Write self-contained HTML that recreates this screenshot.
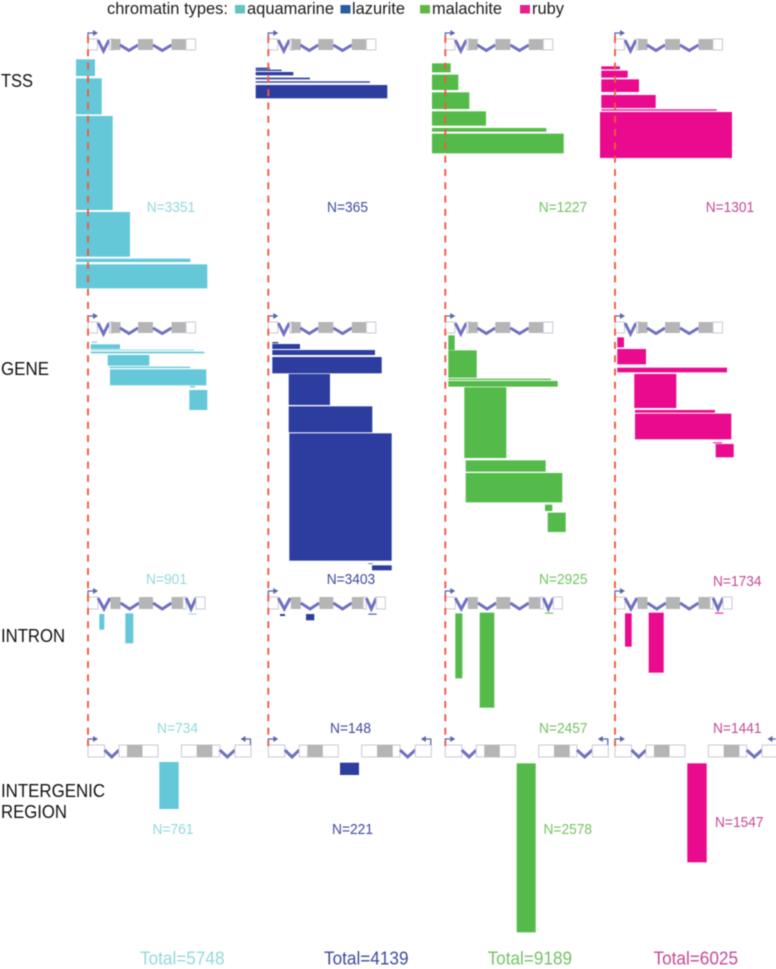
<!DOCTYPE html>
<html lang="en">
<head>
<meta charset="utf-8">
<title>Chromatin types across gene regions</title>
<style>
html,body{margin:0;padding:0;background:#fff;width:776px;height:969px;overflow:hidden}
svg{display:block;font-family:"Liberation Sans",Arial,sans-serif;filter:blur(0.45px)}
</style>
</head>
<body>
<svg id="chart" xmlns="http://www.w3.org/2000/svg" width="776" height="969" viewBox="0 0 776 969">
  <g>
    <text x="107" y="14" font-size="16.5" fill="#1c1c1c" textLength="121" lengthAdjust="spacingAndGlyphs">chromatin types:</text>
    <rect x="235" y="5" width="10" height="8.5" fill="#5fc4c2"/>
    <text x="247" y="14" font-size="16.5" fill="#1c1c1c" textLength="87" lengthAdjust="spacingAndGlyphs">aquamarine</text>
    <rect x="340.5" y="5" width="10" height="8.5" fill="#2a5ca4"/>
    <text x="352" y="14" font-size="16.5" fill="#1c1c1c" textLength="53" lengthAdjust="spacingAndGlyphs">lazurite</text>
    <rect x="420" y="5" width="10" height="8.5" fill="#5fb843"/>
    <text x="432" y="14" font-size="16.5" fill="#1c1c1c" textLength="70" lengthAdjust="spacingAndGlyphs">malachite</text>
    <rect x="520" y="5" width="10" height="8.5" fill="#e8208c"/>
    <text x="532" y="14" font-size="16.5" fill="#1c1c1c" textLength="32" lengthAdjust="spacingAndGlyphs">ruby</text>
  </g>
  <g font-size="18" fill="#111">
    <text x="1" y="87" textLength="32" lengthAdjust="spacingAndGlyphs">TSS</text>
    <text x="1" y="375" textLength="48" lengthAdjust="spacingAndGlyphs">GENE</text>
    <text x="1" y="642" textLength="64" lengthAdjust="spacingAndGlyphs">INTRON</text>
    <text x="1" y="797" textLength="104" lengthAdjust="spacingAndGlyphs">INTERGENIC</text>
    <text x="1" y="818" textLength="66" lengthAdjust="spacingAndGlyphs">REGION</text>
  </g>
  <g id="marks"></g>
  <g id="glyphs"></g>
  <g id="guides"></g>
  <g id="labels"></g>
</svg>
<script>
// Each bar: [region start (kb from TSS), region end (kb), first gene rank, last gene rank]
const tssAquamarine = [[-1.2,0.7,35,285],[-1.2,1.37,320,860],[-1.2,2.47,885,2295],[-1.2,4.2,2325,2995],[-1.2,10.23,3025,3075],[-1.2,11.93,3110,3470]];
const tssLazurite = [[-1.26,0.17,160,185],[-1.26,1.34,190,210],[-1.26,2.5,225,275],[-1.26,4.17,310,335],[-1.26,10.17,365,385],[-1.26,11.9,420,620]];
const tssMalachite = [[-1.33,0.54,95,230],[-1.33,1.3,265,495],[-1.33,2.4,530,780],[-1.33,4.07,815,1030],[-1.33,10.1,1065,1120],[-1.33,11.84,1150,1445]];
const tssRuby = [[-1.37,0.5,140,185],[-1.37,1.27,205,310],[-1.37,2.4,335,525],[-1.37,4.07,570,765],[-1.37,10.17,785,805],[-1.5,11.7,825,1515]];

const geneAquamarine = [[0.37,0.93,175,190],[0.27,3.2,215,285],[0.27,10.6,295,305],[0.27,11.63,325,350],[1.97,6.13,375,535],[2.13,10.2,550,570],[2.2,11.83,590,830],[10.2,10.7,840,860],[10.13,11.93,900,1200]];
const geneLazurite = [[0.4,1.0,180,200],[0.4,3.17,210,285],[0.4,10.67,300,375],[0.4,11.34,405,650],[2.04,6.17,660,1125],[2.04,10.4,1145,1535],[2.1,12.34,1550,3460],[9.97,10.47,3500,3510],[10.37,12.34,3530,3605]];
const geneMalachite = [[0.3,0.94,80,300],[0.3,3.14,305,715],[0.3,10.57,730,750],[0.3,11.24,765,850],[1.9,6.1,860,1920],[2.04,10.04,1955,2125],[2.04,11.7,2145,2585],[9.97,10.7,2620,2715],[10.24,12.04,2740,3030]];
const geneRuby = [[0.23,0.9,110,260],[0.23,3.1,285,515],[0.23,11.2,565,635],[1.93,6.13,660,1170],[2.0,10.0,1200,1240],[2.0,11.63,1255,1640],[9.8,10.7,1685,1700],[10.07,11.87,1710,1910]];

const intronAquamarine = [[1.13,1.63,30,265],[3.73,4.53,20,470],[10,10.9,25,35]];
const intronLazurite = [[1.17,1.67,30,60],[3.77,4.6,30,125],[10,10.84,25,40]];
const intronMalachite = [[1,1.7,20,995],[3.44,4.9,10,1435],[9.97,10.8,10,25]];
const intronRuby = [[1,1.67,20,520],[3.37,4.87,10,910],[10,10.83,10,25]];

const intergenicAquamarine = [[7.13,9.07,0,705]];
const intergenicLazurite = [[7.17,9.07,10,195]];
const intergenicMalachite = [[7.14,9.04,20,2555]];
const intergenicRuby = [[7.23,9.17,20,1505]];

// Printed values
const chromatinTypes = ['aquamarine','lazurite','malachite','ruby'];
const regionNames = ['tss','gene','intron','intergenic'];
const tssCounts = [3351,365,1227,1301];
const geneCounts = [901,3403,2925,1734];
const intronCounts = [734,148,2457,1441];
const intergenicCounts = [761,221,2578,1547];
const totals = [5748,4139,9189,6025];

// Axis functions and layout (not data)
const columnTss = [88,268.3,445.3,615];
const rowTop = [57,330,612,762];
const PX_PER_KB = 10;
const GENES_PER_PX = 15;
const xAxis = (col, kb) => columnTss[col] + kb * PX_PER_KB;
const yAxis = (row, rank) => rowTop[row] + rank / GENES_PER_PX;

const barColors = ['#64c8d9','#2c3d9f','#54ba49','#ea0a8d'];
const labelColors = ['#93d8dc','#3f4a9e','#74c266','#c44a93'];
const regionBars = [
  [tssAquamarine,tssLazurite,tssMalachite,tssRuby],
  [geneAquamarine,geneLazurite,geneMalachite,geneRuby],
  [intronAquamarine,intronLazurite,intronMalachite,intronRuby],
  [intergenicAquamarine,intergenicLazurite,intergenicMalachite,intergenicRuby]
];
const SVGNS = 'http://www.w3.org/2000/svg';
function make(tag, parent, attrs){
  const el = document.createElementNS(SVGNS, tag);
  for (const k in attrs) el.setAttribute(k, attrs[k]);
  parent.appendChild(el);
  return el;
}

// Bars
const marks = document.getElementById('marks');
regionBars.forEach((row, r) => {
  row.forEach((bars, c) => {
    bars.forEach((b, i) => {
      const x0 = xAxis(c, b[0]), x1 = xAxis(c, b[1]);
      const y0 = yAxis(r, b[2]), y1 = yAxis(r, b[3]);
      const el = make('rect', marks, {x:x0, y:y0, width:x1-x0, height:y1-y0, fill:barColors[c]});
      
      
    });
  });
});

// Gene diagrams
const glyphs = document.getElementById('glyphs');
const BOX = '#c9c9d6', GREY = '#b5b5b5', WAVE = '#7070c0', ARROW = '#5c66aa';
function box(g, x, y, w, h, fill){
  make('rect', g, {x:x, y:y, width:w, height:h, fill:fill, stroke:fill===GREY?'none':BOX, 'stroke-width':1});
}
function vee(g, x0, x1, yTop, yBot){
  make('polyline', g, {points:x0+','+yTop+' '+(x0+x1)/2+','+yBot+' '+x1+','+yTop, fill:'none', stroke:WAVE, 'stroke-width':3});
}
function tssArrow(g, x, y, dir){
  make('path', g, {d:'M'+x+' '+y+'V'+(y-6)+'H'+(x+dir*6), fill:'none', stroke:ARROW, 'stroke-width':1.3});
  make('path', g, {d:'M'+(x+dir*5)+' '+(y-9)+'L'+(x+dir*10)+' '+(y-6)+'L'+(x+dir*5)+' '+(y-3)+'Z', fill:ARROW});
}
function geneDiagram(c, y){
  const o = columnTss[c], h = 11;
  const g = make('g', glyphs, {});
  
  
  box(g, o, y, 9.5, h, '#fff');
  vee(g, o+10, o+21, y+1, y+12);
  box(g, o+21.5, y, 4, h, '#fff');
  box(g, o+23, y, 9.5, h, GREY);
  vee(g, o+32, o+50, y+6, y+11.5);
  box(g, o+50, y, 15, h, GREY);
  vee(g, o+65, o+83.5, y+6, y+11.5);
  box(g, o+83.5, y, 14.5, h, GREY);
  box(g, o+98, y, 9.5, h, '#fff');
  tssArrow(g, o, y, 1);
}
function intronDiagram(c, y){
  const o = columnTss[c], h = 12;
  const g = make('g', glyphs, {});
  
  
  box(g, o, y, 10, h, '#fff');
  vee(g, o+10, o+22, y+1, y+12);
  box(g, o+22.5, y, 10, h, GREY);
  vee(g, o+32.5, o+51, y+6, y+12);
  box(g, o+51, y, 14, h, GREY);
  vee(g, o+65, o+83.5, y+6, y+12);
  box(g, o+83.5, y, 11.5, h, GREY);
  box(g, o+95, y, 3, h, '#fff');
  vee(g, o+98, o+108, y+1, y+12);
  box(g, o+108, y, 9, h, '#fff');
  tssArrow(g, o, y, 1);
}
function intergenicDiagram(c, y){
  const o = columnTss[c], h = 12;
  const g = make('g', glyphs, {});
  
  
  box(g, o, y, 16.5, h, '#fff');
  vee(g, o+16.5, o+31, y+5, y+12);
  box(g, o+31, y, 39, h, '#fff');
  box(g, o+39, y, 15.5, h, GREY);
  box(g, o+93.4, y, 38.3, h, '#fff');
  box(g, o+108.7, y, 15.7, h, GREY);
  vee(g, o+131.7, o+147, y+5, y+12);
  box(g, o+147, y, 16, h, '#fff');
  tssArrow(g, o, y, 1);
  tssArrow(g, o+162.5, y, -1);
}
for (let c = 0; c < 4; c++){
  geneDiagram(c, 39);
  geneDiagram(c, 322);
  intronDiagram(c, 597);
  intergenicDiagram(c, 745);
}

// Dashed TSS guides
const guides = document.getElementById('guides');
columnTss.forEach((x, c) => {
  const el = make('line', guides, {x1:x, x2:x, y1:36, y2:746, stroke:'#f05a40', 'stroke-width':1.9, 'stroke-dasharray':'7 6.3'});
  
  
});

// Count labels
const labels = document.getElementById('labels');
const rowCounts = [tssCounts, geneCounts, intronCounts, intergenicCounts];
const labelX = [
  [146.7,327,538.7,705.7],
  [146,326.7,539,713],
  [157,330,539,713],
  [152.5,332,543.5,715]
];
const labelBase = [
  [212,212,212,212],
  [584,584,584,586],
  [733,733,733,733],
  [834,834,834,827]
];
rowCounts.forEach((counts, r) => {
  counts.forEach((n, c) => {
    const digits = String(n).length;
    const t = make('text', labels, {x:labelX[r][c], y:labelBase[r][c], 'font-size':14.5, fill:labelColors[c], textLength:digits===4?48.5:41, lengthAdjust:'spacingAndGlyphs'});
    t.textContent = 'N=' + n;
    
    
  });
});
const totalX = [140,324,487.6,653.5];
totals.forEach((n, c) => {
  const t = make('text', labels, {x:totalX[c], y:964.5, 'font-size':18, fill:labelColors[c], textLength:84.5, lengthAdjust:'spacingAndGlyphs'});
  t.textContent = 'Total=' + n;
  
  
});
</script>
</body>
</html>
